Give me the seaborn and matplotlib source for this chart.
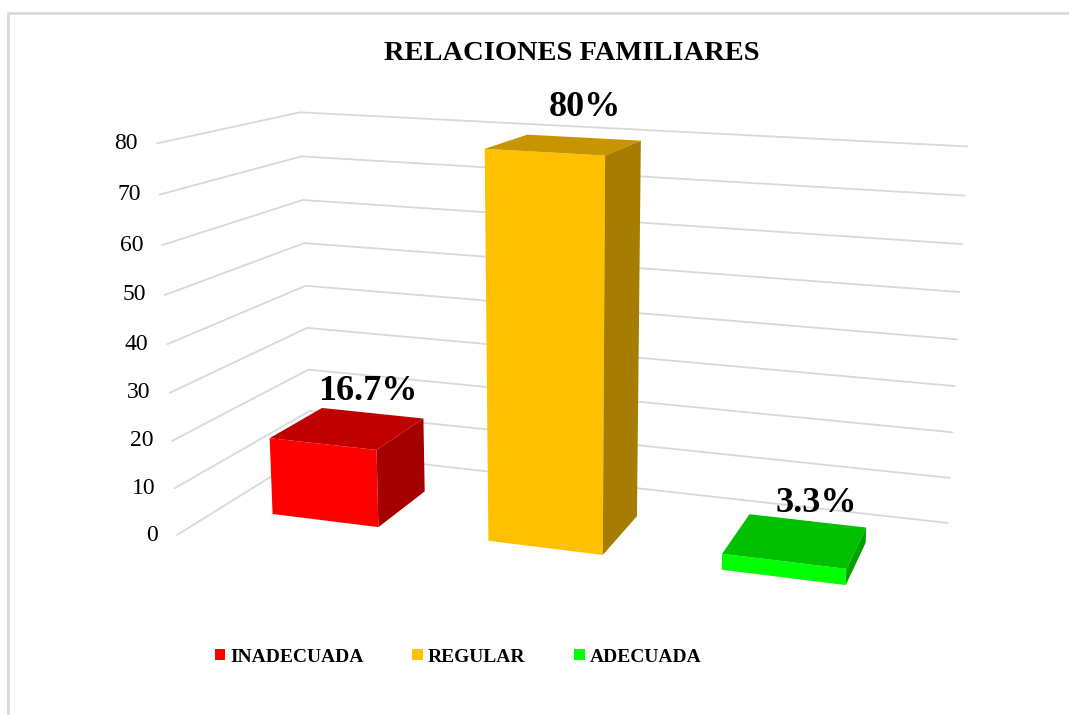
import numpy as np
import matplotlib
matplotlib.use("Agg")
import matplotlib.pyplot as plt
import matplotlib.transforms as mtransforms
import seaborn as sns

# Chart data
categories = ["INADECUADA", "REGULAR", "ADECUADA"]
percentages = [16.7, 80, 3.3]
value_labels = ["16.7%", "80%", "3.3%"]
y_ticks = [0, 10, 20, 30, 40, 50, 60, 70, 80]
title = "RELACIONES FAMILIARES"

front_colors = ["#FF0000", "#FFC000", "#00FF00"]
top_colors = ["#C00000", "#C69500", "#00C000"]
side_colors = ["#A40000", "#A67D00", "#00A200"]

# Perspective camera: (category, value, depth) -> image pixels.
# Columns: category axis, value axis, depth axis, origin. Tuned by eye to the Excel 3D view.
CAMERA = np.array([
    [199.35, -0.3397, 144.86, 325.0],
    [6.52, -4.8507, -9.265, 520.5],
    [-0.03792, -6.077e-4, 0.1252, 1.0],
])
BAR_DEPTH = 0.5
FLOOR_FRONT, FLOOR_BACK = -0.366, 0.866
WALL_LEFT, WALL_RIGHT = -0.5, 2.55
W, H = 1069, 715


def project(x, y, z):
    x, y, z = np.broadcast_arrays(np.asarray(x, float), np.asarray(y, float), np.asarray(z, float))
    pts = CAMERA @ np.vstack([x.ravel(), y.ravel(), z.ravel(), np.ones(x.size)])
    return pts[0] / pts[2], pts[1] / pts[2]


# Maps (category, value) points lying on the plane depth=z into pixel space
class PlaneTransform(mtransforms.Transform):
    input_dims = 2
    output_dims = 2

    def __init__(self, z):
        super().__init__()
        self.z = z

    def transform_non_affine(self, values):
        values = np.asarray(values, float)
        px, py = project(values[:, 0], values[:, 1], self.z)
        return np.column_stack([px, py])


sns.set_style("white")
plt.rcParams["font.family"] = ["Liberation Serif", "DejaVu Serif"]
plt.rcParams["text.color"] = "black"

fig = plt.figure(figsize=(W / 100, H / 100), dpi=100)
ax = fig.add_axes([0, 0, 1, 1])

# Front faces come straight from seaborn, then get bent into the 3D view
sns.barplot(x=categories, y=percentages, hue=categories, palette=front_colors,
            saturation=1, width=0.5, linewidth=0, ax=ax, legend=True, zorder=3)

ax.set_xlim(0, W)
ax.set_ylim(H, 0)
ax.set_axis_off()

front = PlaneTransform(0) + ax.transData
bars = [p for p in ax.patches if p.get_height() > 0 and p.get_width() > 0]
for p in bars:
    p.set_transform(front)
    p.set_zorder(3)
    i = int(round(p.get_x() + p.get_width() / 2))
    x0, x1, h = p.get_x(), p.get_x() + p.get_width(), p.get_height()
    tx, ty = project([x0, x1, x1, x0], h, [0, 0, BAR_DEPTH, BAR_DEPTH])
    ax.fill(tx, ty, color=top_colors[i], lw=0, zorder=3)
    sx, sy = project(x1, [0, h, h, 0], [0, 0, BAR_DEPTH, BAR_DEPTH])
    ax.fill(sx, sy, color=side_colors[i], lw=0, zorder=3)
    cx, cy = project((x0 + x1) / 2, h, BAR_DEPTH / 2)
    ax.text(cx[0] + 20, cy[0] - 37, value_labels[i], ha="center", va="center",
            fontsize=26, fontweight="bold", zorder=5)

# Wall gridlines: left wall then back wall
for v in y_ticks:
    gx, gy = project([WALL_LEFT, WALL_LEFT, WALL_RIGHT], v, [FLOOR_FRONT, FLOOR_BACK, FLOOR_BACK])
    ax.plot(gx, gy, color="#D9D9D9", lw=1.3, zorder=1)
    ax.text(gx[0] - 19, gy[0], str(v), ha="right", va="center", fontsize=17)

ax.text(572, 53, title, ha="center", va="center", fontsize=20.5, fontweight="bold")

# chart area border (left and top edges visible in the crop)
ax.plot([8, 8, W], [H, 13, 13], color="#D9D9D9", lw=2, zorder=0)

sns.move_legend(ax, "center", bbox_to_anchor=(458 / W, 1 - 657 / H), ncol=3, frameon=False,
                title=None, prop={"weight": "bold", "size": 14}, handlelength=0.55,
                handleheight=0.55, handletextpad=0.25, columnspacing=2.5)

fig.savefig("out.png", dpi=100)
